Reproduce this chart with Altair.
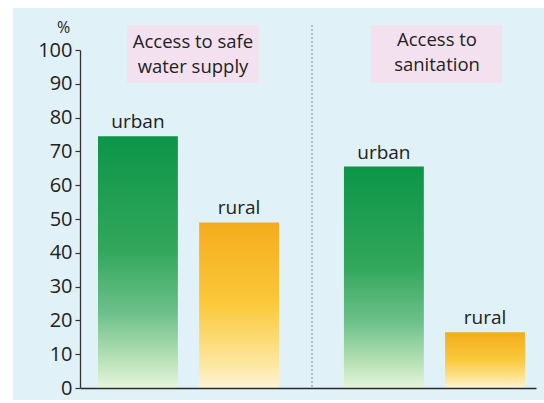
import altair as alt
import pandas as pd

# ---- data ----
groups = ["Access to safe water supply", "Access to sanitation"]
kinds = ["urban", "rural"]
values = {
    "Access to safe water supply": [74.5, 49],
    "Access to sanitation": [65.5, 16.5],
}
panel_titles = [["Access to safe", "water supply"], ["Access to", "sanitation"]]
y_ticks = [0, 10, 20, 30, 40, 50, 60, 70, 80, 90, 100]

rows = []
for g in groups:
    for k, v in zip(kinds, values[g]):
        rows.append({"group": g, "kind": k, "value": v})
df = pd.DataFrame(rows)

FONT = "Open Sans"
W, H = 456, 338

green = alt.Gradient(
    gradient="linear", x1=0, y1=0, x2=0, y2=1,
    stops=[
        alt.GradientStop(color="#0c9548", offset=0),
        alt.GradientStop(color="#32a75b", offset=0.45),
        alt.GradientStop(color="#6cc08a", offset=0.7),
        alt.GradientStop(color="#b5e0b4", offset=0.88),
        alt.GradientStop(color="#e6f5dc", offset=1),
    ],
)
orange = alt.Gradient(
    gradient="linear", x1=0, y1=0, x2=0, y2=1,
    stops=[
        alt.GradientStop(color="#f5ac1c", offset=0),
        alt.GradientStop(color="#fac93c", offset=0.5),
        alt.GradientStop(color="#fde79e", offset=0.85),
        alt.GradientStop(color="#fdf3d8", offset=1),
    ],
)

x_enc = alt.X(
    "group:N", sort=groups, title=None,
    scale=alt.Scale(paddingInner=0.264, paddingOuter=0.059, align=0.62),
    axis=alt.Axis(labels=False, ticks=False, domainColor="#2a2a2a", domainWidth=1.5, zindex=2),
)
xo_enc = alt.XOffset("kind:N", sort=kinds, scale=alt.Scale(paddingInner=0.21, paddingOuter=0))
y_enc = alt.Y(
    "value:Q", title="%",
    scale=alt.Scale(domain=[0, 100], nice=False),
    axis=alt.Axis(
        values=y_ticks, grid=False, tickSize=5, tickColor="#333", domainColor="#333",
        domainWidth=1.3, tickWidth=1.2, labelPadding=3, labelFontSize=20, labelFont=FONT,
        labelColor="#222", titleAngle=0, titleX=-17, titleY=-23, titleAlign="center",
        titleBaseline="middle", titleFontWeight="normal", titleFontSize=16, titleFont=FONT,
        titleColor="#222", zindex=2,
    ),
)

one = pd.DataFrame({"a": [0]})

bg = alt.Chart(one).mark_rect(color="#e0f1f8").encode(
    x=alt.value(-67), x2=alt.value(464), y=alt.value(-42), y2=alt.value(350)
)

box1 = alt.Chart(one).mark_rect(color="#f4e1ef").encode(
    x=alt.value(47), x2=alt.value(179), y=alt.value(-25), y2=alt.value(33)
)
box2 = alt.Chart(one).mark_rect(color="#f4e1ef").encode(
    x=alt.value(291), x2=alt.value(422), y=alt.value(-25), y2=alt.value(33)
)
t1 = alt.Chart(one).mark_text(font=FONT, fontSize=18.5, color="#222", lineHeight=25,
                              baseline="middle", align="center").encode(
    x=alt.value(113), y=alt.value(-8), text=alt.value(panel_titles[0])
)
t2 = alt.Chart(one).mark_text(font=FONT, fontSize=18.5, color="#222", lineHeight=25,
                              baseline="middle", align="center").encode(
    x=alt.value(357), y=alt.value(-10), text=alt.value(panel_titles[1])
)

divider = alt.Chart(one).mark_rule(color="#8a8a8a", strokeDash=[2, 2], strokeWidth=1).encode(
    x=alt.value(232), y=alt.value(-25), y2=alt.value(H)
)

base = alt.Chart(df).encode(x=x_enc, xOffset=xo_enc, y=y_enc)
urban = base.transform_filter(alt.datum.kind == "urban").mark_bar(color=green)
rural = base.transform_filter(alt.datum.kind == "rural").mark_bar(color=orange)
labels = base.mark_text(font=FONT, fontSize=19, color="#222", baseline="alphabetic", dy=-8).encode(
    text="kind:N"
)

chart = alt.layer(bg, box1, box2, t1, t2, divider, urban, rural, labels).properties(
    width=W, height=H,
    autosize=alt.AutoSizeParams(type="none"),
    padding={"left": 80, "top": 50, "right": 8, "bottom": 15},
    background="white",
).configure_view(stroke=None)

chart.save("out.html", embed_options={"renderer": "svg", "actions": False})
